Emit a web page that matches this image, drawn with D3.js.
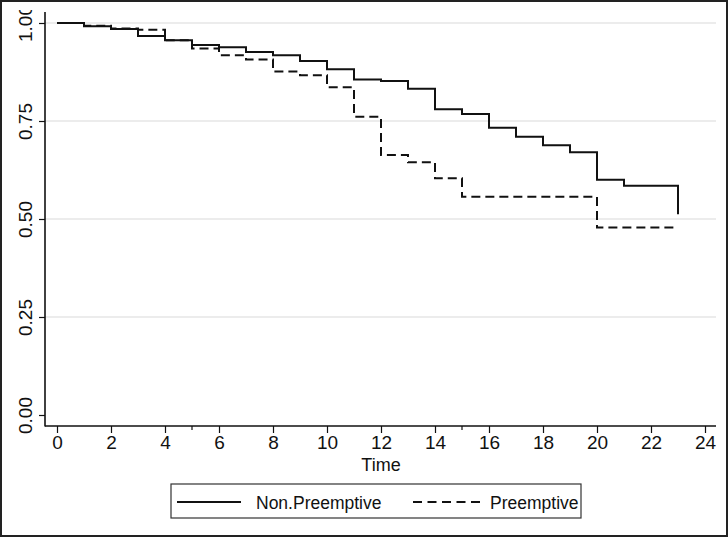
<!DOCTYPE html>
<html>
<head>
<meta charset="utf-8">
<script src="https://cdn.jsdelivr.net/npm/d3@7"></script>
<style>
  html, body { margin: 0; padding: 0; background: #fff; }
  svg { display: block; }
</style>
</head>
<body>
<script>
// ---- data ----
const times = [0,1,2,3,4,5,6,7,8,9,10,11,12,13,14,15,16,17,18,19,20,21,22,23];
const nonPreemptive = [1.000,0.992,0.985,0.967,0.956,0.944,0.938,0.926,0.918,0.903,0.882,0.856,0.852,0.832,0.780,0.768,0.733,0.710,0.688,0.670,0.600,0.585,0.585,0.512];
const preemptive    = [1.000,0.993,0.986,0.983,0.956,0.935,0.918,0.907,0.876,0.867,0.836,0.761,0.663,0.645,0.604,0.557,0.557,0.557,0.557,0.557,0.478,0.478,0.478,0.478];
const xTicks = [0,2,4,6,8,10,12,14,16,18,20,22,24];
const xMinorTicks = [5,15];
const yTicks = [0,0.25,0.5,0.75,1];
const yGrid = [0.25,0.5,0.75,1];
const seriesNames = ["Non.Preemptive","Preemptive"];

const W = 728, H = 537;
const svg = d3.select("body").append("svg").attr("width", W).attr("height", H);

const x = d3.scaleLinear().domain([0,24]).range([57,705]);
const y = d3.scaleLinear().domain([0,1]).range([415,23]);

const axisX0 = 45, axisY0 = 426, plotRight = 716, plotTop = 12;

// clip for graph region
svg.append("clipPath").attr("id","gclip").append("rect")
  .attr("x",2).attr("y",10).attr("width",W-4).attr("height",H-12);

const g = svg.append("g").attr("clip-path","url(#gclip)");

// gridlines
g.append("g").selectAll("line").data(yGrid).join("line")
  .attr("x1", axisX0).attr("x2", plotRight)
  .attr("y1", d => y(d)).attr("y2", d => y(d))
  .attr("stroke", "#e6e6e6").attr("stroke-width", 1.5);

// y axis
const yAxis = d3.axisLeft(y).tickValues(yTicks).tickFormat(d3.format(".2f")).tickSize(6).tickSizeOuter(0);
const gy = g.append("g").attr("transform", `translate(${axisX0},0)`).call(yAxis);
gy.select(".domain").remove();
gy.selectAll(".tick line").attr("stroke","#111").attr("stroke-width",1.2);
gy.selectAll(".tick text")
  .attr("font-family","'Liberation Sans Narrow','Arial Narrow','Liberation Sans',sans-serif")
  .attr("font-size",19).attr("fill","#111")
  .attr("text-anchor","middle")
  .attr("x",0).attr("dy",0)
  .attr("transform", d => `translate(-20,0) rotate(-90)`)
  .attr("dominant-baseline","central");

// x axis
const xAxis = d3.axisBottom(x).tickValues(xTicks).tickFormat(d3.format("d")).tickSize(7).tickSizeOuter(0);
const gx = g.append("g").attr("transform", `translate(0,${axisY0})`).call(xAxis);
gx.select(".domain").remove();
gx.selectAll(".tick line").attr("stroke","#111").attr("stroke-width",1.2);
gx.selectAll(".tick text")
  .attr("font-family","'Liberation Sans Narrow','Arial Narrow','Liberation Sans',sans-serif")
  .attr("font-size",19).attr("fill","#111").attr("y",10).attr("dy","0.71em");

// minor ticks
g.append("g").selectAll("line").data(xMinorTicks).join("line")
  .attr("x1", d => x(d)).attr("x2", d => x(d))
  .attr("y1", axisY0).attr("y2", axisY0 + 4)
  .attr("stroke","#111").attr("stroke-width",1.2);

// axis lines
g.append("line").attr("x1",axisX0).attr("x2",axisX0).attr("y1",plotTop).attr("y2",axisY0+0.6)
  .attr("stroke","#111").attr("stroke-width",1.6);
g.append("line").attr("x1",axisX0).attr("x2",plotRight).attr("y1",axisY0).attr("y2",axisY0)
  .attr("stroke","#111").attr("stroke-width",1.6);

// x title
g.append("text").attr("x", x(12)).attr("y", 471)
  .attr("text-anchor","middle")
  .attr("font-family","'Liberation Sans Narrow','Arial Narrow','Liberation Sans',sans-serif")
  .attr("font-size",18).attr("fill","#111").text("Time");

// curves
const line = d3.line().x(d => x(d[0])).y(d => y(d[1])).curve(d3.curveStepAfter);
const dataNP = times.map((t,i) => [t, nonPreemptive[i]]);
const dataP = times.map((t,i) => [t, preemptive[i]]);

g.append("path").datum(dataP).attr("d", line)
  .attr("fill","none").attr("stroke","#111").attr("stroke-width",2)
  .attr("stroke-dasharray","9,5");
g.append("path").datum(dataNP).attr("d", line)
  .attr("fill","none").attr("stroke","#111").attr("stroke-width",2);

// legend
const lg = svg.append("g");
lg.append("rect").attr("x",171).attr("y",484).attr("width",410).attr("height",34)
  .attr("fill","#fff").attr("stroke","#333").attr("stroke-width",1.2);
lg.append("line").attr("x1",177).attr("x2",241).attr("y1",502).attr("y2",502)
  .attr("stroke","#111").attr("stroke-width",2);
lg.append("text").attr("x",256).attr("y",508.5)
  .attr("font-family","'Liberation Sans',Arial,sans-serif").attr("font-size",17.5).attr("fill","#111")
  .text(seriesNames[0]);
lg.append("line").attr("x1",413).attr("x2",480).attr("y1",502).attr("y2",502)
  .attr("stroke","#111").attr("stroke-width",2).attr("stroke-dasharray","9,5.5");
lg.append("text").attr("x",490).attr("y",508.5)
  .attr("font-family","'Liberation Sans',Arial,sans-serif").attr("font-size",17.5).attr("fill","#111")
  .text(seriesNames[1]);

// outer frame
svg.append("rect").attr("x",1).attr("y",1).attr("width",W-2).attr("height",H-2)
  .attr("fill","none").attr("stroke","#222").attr("stroke-width",2);
</script>
</body>
</html>
